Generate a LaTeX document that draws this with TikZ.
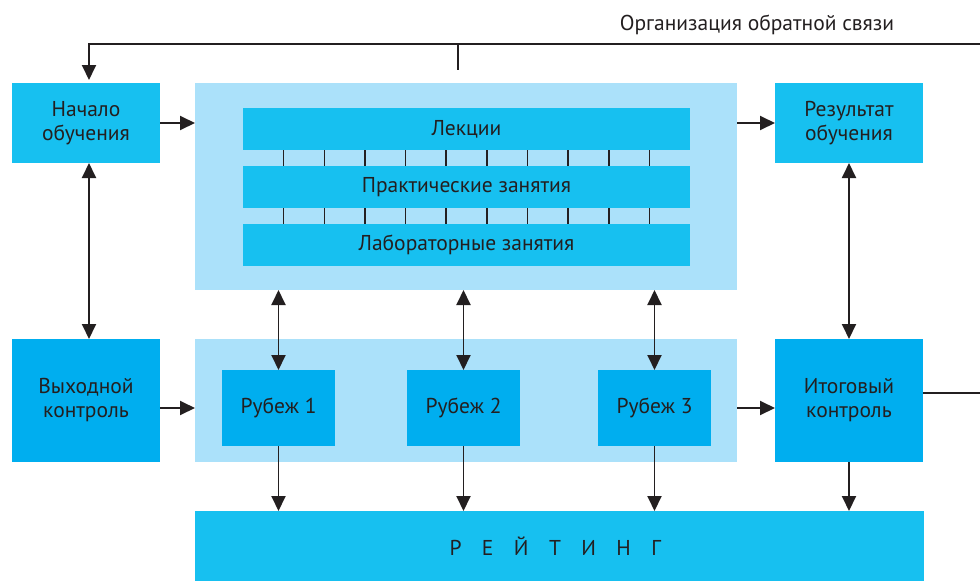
\documentclass[tikz,border=0pt]{standalone}
\usepackage{fontspec}
\setmainfont{PT Sans}
\usetikzlibrary{arrows.meta,calc}
\definecolor{bright}{HTML}{17C0F0}
\definecolor{deep}{HTML}{00AEEF}
\definecolor{pale}{HTML}{ABE1FA}
\definecolor{ink}{HTML}{231F20}
\tikzset{
  box/.style={rectangle,inner sep=0pt,outer sep=0pt,anchor=north west,align=center,
    text=ink,font=\fontsize{21.5}{24}\selectfont},
  brightbox/.style={box,fill=bright},
  deepbox/.style={box,fill=deep},
  panel/.style={box,fill=pale},
  conn/.style={draw=ink,line width=1.9pt},
  arr/.style={conn,-{Triangle[length=15pt,width=14pt]}},
  dbl/.style={conn,{Triangle[length=15pt,width=14pt]}-{Triangle[length=15pt,width=14pt]}},
  tick/.style={draw=ink,line width=1.5pt}
}
\begin{document}
\begin{tikzpicture}[x=1pt,y=-1pt]
\useasboundingbox (0,0) rectangle (980,581);
% panels
\node[panel,minimum width=542pt,minimum height=207pt] (upper) at (195,83) {};
\node[panel,minimum width=542pt,minimum height=123pt] (lower) at (195,339) {};
% side boxes
\node[brightbox,minimum width=148pt,minimum height=80pt] (start) at (12,83) {Начало\\обучения};
\node[brightbox,minimum width=148pt,minimum height=80pt] (res) at (775,83) {Результат\\обучения};
\node[deepbox,minimum width=148pt,minimum height=123pt] (exit) at (12,339) {Выходной\\контроль};
\node[deepbox,minimum width=148pt,minimum height=123pt] (final) at (775,339) {Итоговый\\контроль};
% bars
\node[brightbox,minimum width=447pt,minimum height=42pt] (lect) at (243,108) {Лекции};
\node[brightbox,minimum width=447pt,minimum height=42pt] (prac) at (243,166) {Практические занятия};
\node[brightbox,minimum width=447pt,minimum height=42pt] (lab) at (243,224) {Лабораторные занятия};
% milestones
\node[deepbox,minimum width=113pt,minimum height=76pt] (rub1) at (222,370) {Рубеж 1};
\node[deepbox,minimum width=113pt,minimum height=76pt] (rub2) at (407,370) {Рубеж 2};
\node[deepbox,minimum width=113pt,minimum height=76pt] (rub3) at (598,370) {Рубеж 3};
% rating
\node[brightbox,minimum width=729pt,minimum height=70pt] (rating) at (195,511)
  {Р\hspace{0.95em}Е\hspace{0.95em}Й\hspace{0.95em}Т\hspace{0.95em}И\hspace{0.95em}Н\hspace{0.95em}Г\hspace{0.4em}};
% feedback label
\node[text=ink,font=\fontsize{21.5}{24}\selectfont,inner sep=0pt] (fblabel) at (757,25) {Организация обратной связи};
% coordinates for free ends
\coordinate (fbR) at (980,44);
\coordinate (fbTickTop) at (458,44);
\coordinate (fbTickBot) at (458,70);
\coordinate (fbR2) at (980,393);
% ticks between bars
\foreach \k in {1,...,10}{
  \draw[tick] ($(lect.south west)+(40.64*\k,0)$) -- ($(prac.north west)+(40.64*\k,0)$);
  \draw[tick] ($(prac.south west)+(40.64*\k,0)$) -- ($(lab.north west)+(40.64*\k,0)$);
}
% feedback loop
\draw[arr,shorten >=3pt] (fbR) -| ([xshift=3pt]start.north);
\draw[conn] (fbTickTop) -- (fbTickBot);
\draw[conn] (fbR2 -| final.east) -- (fbR2);
% horizontal arrows
\draw[arr] (start.east) -- (start.east -| upper.west);
\draw[arr] (res.west -| upper.east) -- (res.west);
\draw[arr] (rub1.west -| exit.east) -- (rub1.west -| lower.west);
\draw[arr] (rub3.east -| lower.east) -- (rub3.east -| final.west);
% vertical double arrows
\draw[dbl] ([xshift=3pt]start.south) -- ([xshift=3pt]exit.north);
\draw[dbl] (res.south) -- (final.north);
\draw[dbl] (rub1.north |- upper.south) -- (rub1.north);
\draw[dbl] (rub2.north |- upper.south) -- (rub2.north);
\draw[dbl] (rub3.north |- upper.south) -- (rub3.north);
% down arrows to rating
\draw[arr] (rub1.south) -- (rub1.south |- rating.north);
\draw[arr] (rub2.south) -- (rub2.south |- rating.north);
\draw[arr] (rub3.south) -- (rub3.south |- rating.north);
\draw[arr] (final.south) -- (final.south |- rating.north);
\end{tikzpicture}
\end{document}
